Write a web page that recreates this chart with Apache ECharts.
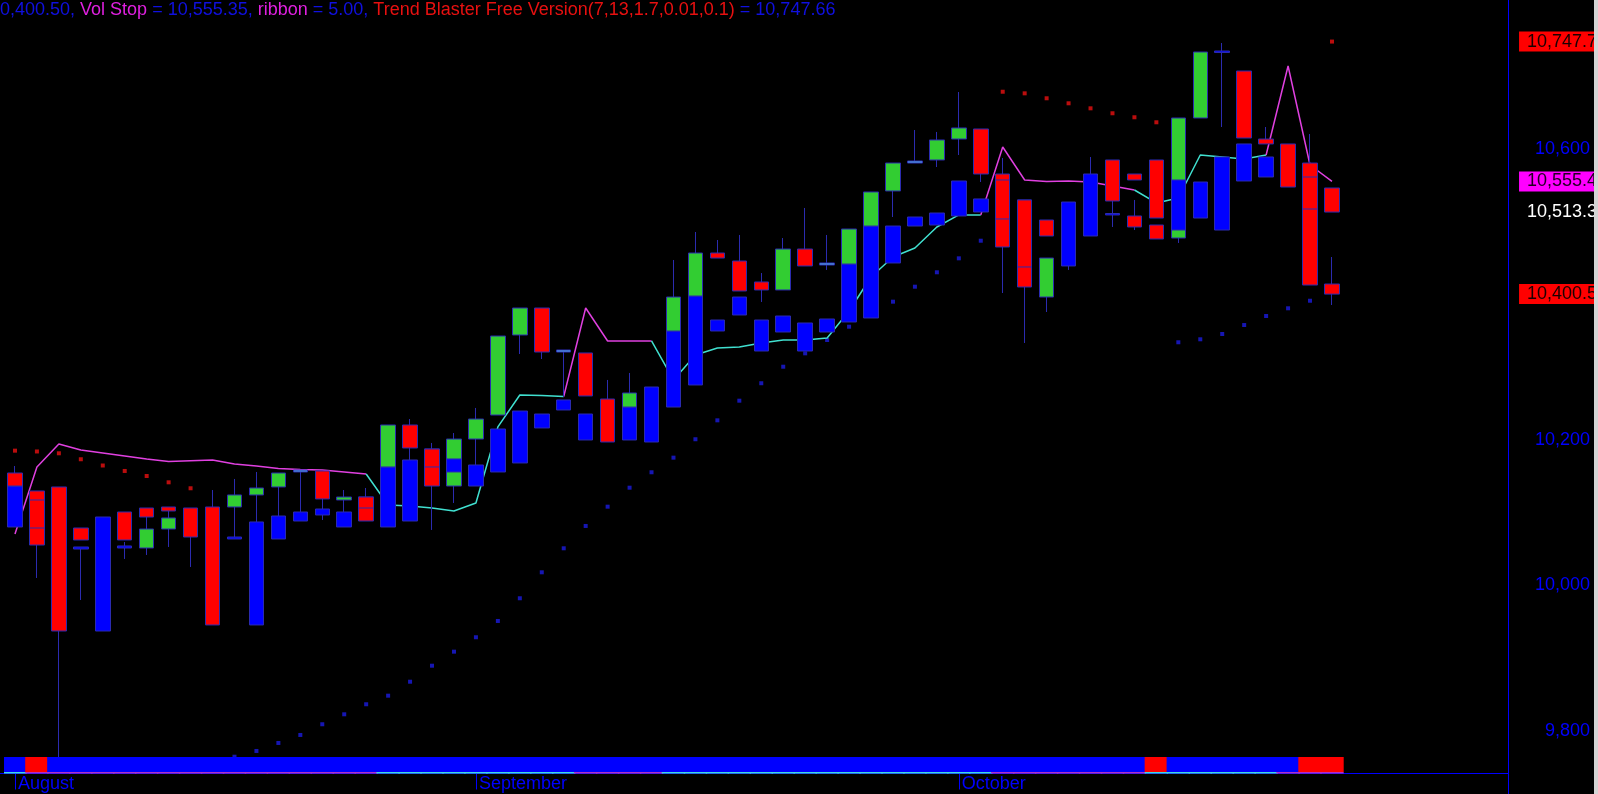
<!DOCTYPE html>
<html>
<head>
<meta charset="utf-8">
<script src="https://cdn.jsdelivr.net/npm/echarts@6/dist/echarts.min.js"></script>
<style>
html,body{margin:0;padding:0;background:#000;overflow:hidden;}
#chart{width:1598px;height:794px;}
</style>
</head>
<body>
<div id="chart"></div>
<script>
// ---------------- DATA ----------------
const dates = [
 '2017-08-01','2017-08-02','2017-08-03','2017-08-04','2017-08-07','2017-08-08','2017-08-09','2017-08-10','2017-08-11','2017-08-14',
 '2017-08-16','2017-08-17','2017-08-18','2017-08-21','2017-08-22','2017-08-23','2017-08-24','2017-08-28','2017-08-29','2017-08-30',
 '2017-08-31',
 '2017-09-01','2017-09-04','2017-09-05','2017-09-06','2017-09-07','2017-09-08','2017-09-11','2017-09-12','2017-09-13','2017-09-14',
 '2017-09-15','2017-09-18','2017-09-19','2017-09-20','2017-09-21','2017-09-22','2017-09-25','2017-09-26','2017-09-27','2017-09-28',
 '2017-09-29','2017-09-30',
 '2017-10-03','2017-10-04','2017-10-05','2017-10-06','2017-10-09','2017-10-10','2017-10-11','2017-10-12','2017-10-13','2017-10-16',
 '2017-10-17','2017-10-18','2017-10-19','2017-10-20','2017-10-23','2017-10-24','2017-10-25','2017-10-26'
];
const blankBars = 8;
const monthNames = {'08':'August','09':'September','10':'October'};

// Candle set A (drawn first): [open, close, low, high]
const candlesA = [
 [10136.7,10080.4,10080.4,10136.7],[10129.9,10055.6,10010.3,10129.9],[10135.4,9937.4,9764.2,10135.4],[10052.9,10050.1,9980.0,10052.9],
 [10094.1,9937.4,9937.4,10094.1],[10054.3,10051.5,10036.4,10059.8],[10106.5,10094.1,10041.9,10106.5],[10107.9,10102.4,10052.9,10107.9],
 [10106.5,10066.6,10025.4,10106.5],[10107.9,9945.7,9945.7,10131.2],[10066.6,10063.9,10063.9,10146.4],[10087.3,9945.7,9945.7,10156.0],
 [10095.5,10063.9,10063.9,10145.0],[10101.0,10088.6,10088.6,10157.4],[10105.1,10096.9,10090.0,10118.9],[10101.0,10080.4,10080.4,10131.2],
 [10121.6,10088.6,10088.6,10134.0],[10162.9,10080.4,10080.4,10162.9],[10172.5,10088.6,10088.6,10228.8],[10187.6,10136.7,10076.3,10195.9],
 [10136.7,10201.3,10113.4,10209.6],[10165.6,10136.7,10136.7,10244.0],[10215.1,10156.0,10156.0,10215.1],[10239.8,10168.4,10168.4,10239.8],
 [10235.7,10216.5,10216.5,10235.7],[10255.0,10241.2,10241.2,10255.0],[10235.7,10200.0,10200.0,10235.7],[10256.3,10197.2,10197.2,10282.5],
 [10245.3,10200.0,10200.0,10292.1],[10272.8,10197.2,10197.2,10272.8],[10349.8,10245.3,10245.3,10349.8],[10397.9,10275.6,10275.6,10397.9],
 [10364.9,10349.8,10349.8,10364.9],[10396.5,10371.8,10371.8,10396.5],[10364.9,10322.3,10322.3,10364.9],[10370.4,10348.4,10348.4,10370.4],
 [10360.8,10322.3,10322.3,10360.8],[10366.3,10348.4,10348.4,10366.3],[10441.9,10362.2,10362.2,10441.9],[10494.1,10367.7,10367.7,10494.1],
 [10494.1,10443.3,10443.3,10494.1],[10506.5,10494.1,10494.1,10506.5],[10512.0,10495.5,10495.5,10512.0],[10556.0,10507.9,10507.9,10556.0],
 [10531.3,10513.4,10513.4,10531.3],[10565.6,10465.3,10402.0,10587.6],[10529.9,10410.3,10333.3,10529.9],[10396.5,10450.1,10375.9,10450.1],
 [10527.1,10439.2,10433.7,10527.1],[10565.6,10480.4,10480.4,10589.0],[10511.3,10509.3,10492.8,10528.5],[10507.9,10492.8,10488.6,10529.9],
 [10584.9,10505.1,10505.1,10584.9],[10477.6,10642.6,10470.8,10642.6],[10554.6,10505.1,10505.1,10554.6],[10589.0,10488.6,10488.6,10589.0],
 [10606.9,10556.0,10556.0,10606.9],[10589.0,10561.5,10561.5,10589.0],[10606.9,10547.7,10547.7,10606.9],[10580.7,10413.0,10413.0,10620.6],
 [10414.4,10400.5,10385.5,10451.5]
];
const colorsA = 'brrbbbrrrrbbbbbbrbbrgbbbbbbrbbbbbbbbbbbbbbbbbrrgbbbrrgbbbbrrr'.split('');

// Candle set B (drawn on top): [open, close, low, high]
const candlesB = [
 [10154.6,10136.7,10136.7,10164.2],[10117.5,10079.0,10079.0,10117.5],null,[10079.0,10062.5,10062.5,10079.0],
 null,[10101.0,10062.5,10062.5,10101.0],[10051.5,10077.6,10051.5,10077.6],[10077.6,10092.8,10077.6,10092.8],
 null,null,[10107.9,10124.4,10107.9,10124.4],[10124.4,10134.0,10124.4,10134.0],
 [10135.4,10154.6,10135.4,10154.6],[10158.7,10156.0,10156.0,10158.7],[10157.4,10118.9,10118.9,10157.4],[10117.5,10121.6,10117.5,10121.6],
 [10121.6,10106.5,10106.5,10121.6],[10162.9,10220.6,10162.9,10220.6],[10220.6,10189.0,10189.0,10220.6],[10187.6,10162.9,10162.9,10187.6],
 [10173.9,10156.0,10156.0,10173.9],[10201.3,10228.8,10201.3,10228.8],[10234.3,10342.9,10234.3,10342.9],[10344.3,10381.4,10318.2,10381.4],
 [10381.4,10320.9,10311.3,10381.4],[10323.7,10320.9,10259.1,10323.7],[10319.6,10260.5,10260.5,10319.6],null,
 [10245.3,10264.6,10245.3,10264.6],null,[10349.8,10396.5,10349.8,10447.4],[10397.9,10457.0,10397.9,10485.9],
 [10457.0,10450.1,10450.1,10474.9],[10446.0,10404.8,10404.8,10481.8],[10417.2,10406.2,10389.7,10429.5],[10406.2,10462.5,10406.2,10477.6],
 [10462.5,10439.2,10439.2,10518.9],[10443.3,10440.5,10433.7,10481.8],[10441.9,10490.0,10441.9,10490.0],[10494.1,10540.9,10494.1,10540.9],
 [10542.3,10580.7,10506.5,10580.7],[10583.5,10580.7,10580.7,10626.1],[10584.9,10612.4,10575.2,10623.4],[10613.7,10628.9,10591.7,10678.3],
 [10627.5,10565.6,10554.6,10627.5],[10557.4,10503.8,10503.8,10557.4],[10529.9,10437.8,10437.8,10529.9],[10502.4,10480.4,10480.4,10502.4],
 null,null,[10584.9,10528.5,10528.5,10584.9],[10565.6,10557.4,10557.4,10565.6],
 [10495.5,10476.3,10476.3,10495.5],[10557.4,10488.6,10488.6,10557.4],[10642.6,10733.3,10642.6,10733.3],[10734.7,10732.6,10630.2,10745.7],
 [10707.2,10615.1,10615.1,10707.2],[10613.7,10606.9,10606.9,10630.2],null,[10561.5,10517.5,10517.5,10561.5],
 [10546.4,10513.3,10513.3,10546.4]
];
const colorsB = 'rr-r-rgg--gggl rgrgrrbgggrlr-g-ggrrrgrlgggl ggrrrr--rrrbgbrr-rr'.replace(/ /g,'').split('');

// Vol Stop line and its state (m = above price / magenta, c = below price / cyan)
const volStop = [
 10070.8,10162.9,10194.5,10186.2,10182.1,10178.0,10173.9,10170.4,10171.5,10172.5,
 10167.0,10164.2,10160.8,10159.4,10158.7,10156.0,10153.2,10110.6,10109.2,10106.5,
 10102.4,10113.4,10217.9,10261.8,10261.1,10259.8,10381.4,10336.1,10336.1,10336.1,
 10282.5,10316.8,10326.4,10327.8,10333.3,10337.4,10337.4,10340.2,10377.3,10424.0,
 10451.5,10463.9,10492.8,10509.3,10509.3,10602.7,10557.4,10555.3,10556.0,10554.6,
 10549.1,10543.6,10525.8,10532.6,10591.7,10589.0,10586.2,10591.7,10714.1,10578.0,
 10555.35
];
const volDir = ('c' + 'mmmmmmmmmmmmmmmm' + 'ccccccccc' + 'mmmm' + 'ccccccccccccccc' + 'mmmmmmm' + 'cccccc' + 'mmm').split('');

// Trend Blaster stop dots
const sarBelow = [
 null,null,null,null,null,null,null,null,null,null,
 9764.6,9772.5,9783.5,9794.5,9809.2,9822.9,9836.7,9848.5,9867.7,9889.7,
 9909.0,9928.8,9951.2,9982.4,10018.1,10051.1,10081.8,10108.3,10134.4,10155.6,
 10175.7,10201.0,10227.0,10254.0,10278.0,10300.7,10319.1,10337.4,10355.7,10373.2,
 10390.1,10410.7,10430.5,10449.7,10473.9,null,null,null,null,null,
 null,null,null,10334.3,10338.4,10345.7,10358.0,10370.4,10381.0,10391.4,
 null
];
const sarAbove = [
 10185.3,10184.2,10181.7,10173.5,10164.9,10157.4,10150.5,10141.8,10133.6,null,
 null,null,null,null,null,null,null,null,null,null,
 null,null,null,null,null,null,null,null,null,null,
 null,null,null,null,null,null,null,null,null,null,
 null,null,null,null,null,10678.7,10676.5,10669.7,10662.8,10655.9,
 10649.1,10643.6,10636.7,null,null,null,null,null,null,null,
 10747.66
];

// Ribbon state per bar (b = blue, r = red) and its value
const ribbon = 'brbbbbbbbbbbbbbbbbbbbbbbbbbbbbbbbbbbbbbbbbbbbbbbbbbbrbbbbbbrr'.split('');
const ribbonValue = 5.00;

// Price axis tick labels
const priceTicks = [9800, 10000, 10200, 10600];
const trendParams = '7,13,1.7,0.01,0.1';

// ---------------- CHART ----------------
const FONT = '"Liberation Sans", Arial, sans-serif';
const FS = 18;
const pal = {b:'#0000ff', r:'#ff0000', g:'#32cd32', l:'#5ab0ee'};
const BORDER = '#2b2bb0';
const categories = dates.concat(new Array(blankBars).fill(''));
const n = dates.length;
const STEP = 21.95, LEFT = 4;
const GRID_W = categories.length * STEP;

function fmt(v, d){ return v.toLocaleString('en-US',{minimumFractionDigits:d, maximumFractionDigits:d}); }

function candleData(arr, cols){
  return arr.map((v,i)=>{
    if(!v) return ['-','-','-','-'];
    const c = pal[cols[i]];
    return {value:v, itemStyle:{color:c, color0:c, borderColor:BORDER, borderColor0:BORDER, borderWidth:1}};
  });
}

const monthStart = new Set();
dates.forEach((d,i)=>{ if(i===0 || d.slice(5,7)!==dates[i-1].slice(5,7)) monthStart.add(i); });

const lastClose = candlesA[n-1][1];
const lastB = candlesB[n-1][1];
const lastVol = volStop[n-1];
const lastSar = sarAbove[n-1];

const boxed = [
  {v:lastSar, s:'red'},
  {v:lastVol, s:'mag'},
  {v:lastB, s:'white'},
  {v:lastClose, s:'red'}
];

const series = [];
series.push({type:'scatter', xAxisIndex:0, yAxisIndex:0, data:sarBelow, symbol:'rect', symbolSize:4,
  itemStyle:{color:'#1c1ce0'}, z:1, silent:true, animation:false});
series.push({type:'scatter', xAxisIndex:0, yAxisIndex:0, data:sarAbove, symbol:'rect', symbolSize:4,
  itemStyle:{color:'#e81010'}, z:1, silent:true, animation:false});

// Vol stop runs
let s = 0;
for(let i=1;i<=n;i++){
  if(i===n || volDir[i]!==volDir[s]){
    const e = i-1;
    const data = new Array(n).fill(null);
    for(let j=Math.max(0,s-1); j<=e; j++) data[j] = volStop[j];
    series.push({type:'line', xAxisIndex:0, yAxisIndex:0, data, showSymbol:false, symbol:'none', connectNulls:false,
      lineStyle:{width:1.5, color: volDir[s]==='m' ? '#e040e0' : '#40e0d0'}, z:2, silent:true, animation:false});
    s = i;
  }
}

series.push({type:'candlestick', xAxisIndex:0, yAxisIndex:0, data:candleData(candlesA, colorsA), barWidth:15, z:3, silent:true, animation:false});
series.push({type:'candlestick', xAxisIndex:0, yAxisIndex:0, data:candleData(candlesB, colorsB), barWidth:15, z:4, silent:true, animation:false});

// Ribbon
series.push({type:'bar', xAxisIndex:1, yAxisIndex:1, stack:'rb', barWidth:STEP+1.5,
  data: volDir.map(d=>({value:1.5, itemStyle:{color: d==='m' ? '#b030c8' : '#40d8e0'}})), silent:true, animation:false});
series.push({type:'bar', xAxisIndex:1, yAxisIndex:1, stack:'rb', barWidth:STEP+1.5,
  data: ribbon.map(r=>({value:ribbonValue*3, itemStyle:{color: r==='r' ? '#ff0000' : '#0000ff'}})), silent:true, animation:false});

const titleText =
  '{b|' + fmt(lastClose,2) + ', }{m|Vol Stop}{b| = ' + fmt(lastVol,2) + ', }{m|ribbon}{b| = ' + fmt(ribbonValue,2) +
  ', }{r|Trend Blaster Free Version(' + trendParams + ')}{b| = ' + fmt(lastSar,2) + '}';

const chart = echarts.init(document.getElementById('chart'), null, {renderer:'canvas'});
chart.setOption({
  backgroundColor:'#000000',
  animation:false,
  title:{
    text: titleText, left:-10, top:1, padding:0,
    textStyle:{fontFamily:FONT, fontSize:FS, fontWeight:'normal',
      rich:{
        b:{color:'#1010e0', fontFamily:FONT, fontSize:FS},
        m:{color:'#e020e0', fontFamily:FONT, fontSize:FS},
        r:{color:'#e81010', fontFamily:FONT, fontSize:FS}
      }}
  },
  grid:[
    {left:LEFT, top:0, width:GRID_W, height:757, containLabel:false, outerBoundsMode:'none'},
    {left:LEFT, top:757, width:GRID_W, height:16.5, containLabel:false, outerBoundsMode:'none'}
  ],
  xAxis:[
    {type:'category', gridIndex:0, data:categories, boundaryGap:true, show:false},
    {type:'category', gridIndex:1, data:categories, boundaryGap:true,
      axisLine:{show:false},
      axisTick:{show:true, alignWithLabel:true, length:16, interval:(i)=>monthStart.has(i), lineStyle:{color:'#0000ff', width:1}},
      axisLabel:{show:true, interval:(i)=>monthStart.has(i), color:'#0000ff', fontFamily:FONT, fontSize:FS,
        align:'left', margin:2, padding:[0,0,0,3],
        formatter:(v)=> v ? monthNames[v.slice(5,7)] : ''},
      splitLine:{show:false}}
  ],
  yAxis:[
    {type:'value', gridIndex:0, position:'right', min:9764.2, max:10804.8, scale:true,
      axisLine:{show:false}, axisTick:{show:false}, splitLine:{show:false},
      axisLabel:{show:true, margin:0.5, fontFamily:FONT, fontSize:FS,
        customValues: priceTicks.concat(boxed.map(b=>b.v)),
        formatter:(v)=>{
          for(const b of boxed){ if(Math.abs(b.v - v) < 0.001) return '{' + b.s + '|' + fmt(v,1) + '}'; }
          return '{p|' + fmt(v,0) + '}';
        },
        rich:{
          p:{color:'#0000ff', width:71, align:'right', fontFamily:FONT, fontSize:FS},
          white:{color:'#ffffff', padding:[0,0,0,8], fontFamily:FONT, fontSize:FS},
          red:{color:'#1a0000', backgroundColor:'#ff0000', padding:[1,40,1,8], lineHeight:19, fontFamily:FONT, fontSize:FS},
          mag:{color:'#200020', backgroundColor:'#ff00ff', padding:[1,40,1,8], lineHeight:19, fontFamily:FONT, fontSize:FS}
        }}},
    {type:'value', gridIndex:1, min:0, max:16.5, show:false}
  ],
  graphic:[
    {type:'line', shape:{x1:0, y1:773.5, x2:1508, y2:773.5}, style:{stroke:'#0000ff', lineWidth:1}, z:0, silent:true},
    {type:'line', shape:{x1:1508.5, y1:0, x2:1508.5, y2:794}, style:{stroke:'#0000ff', lineWidth:1}, z:10, silent:true},
    {type:'rect', shape:{x:1594, y:0, width:4, height:794}, style:{fill:'#d4d4d4'}, z:10, silent:true}
  ],
  series
});
</script>
</body>
</html>
